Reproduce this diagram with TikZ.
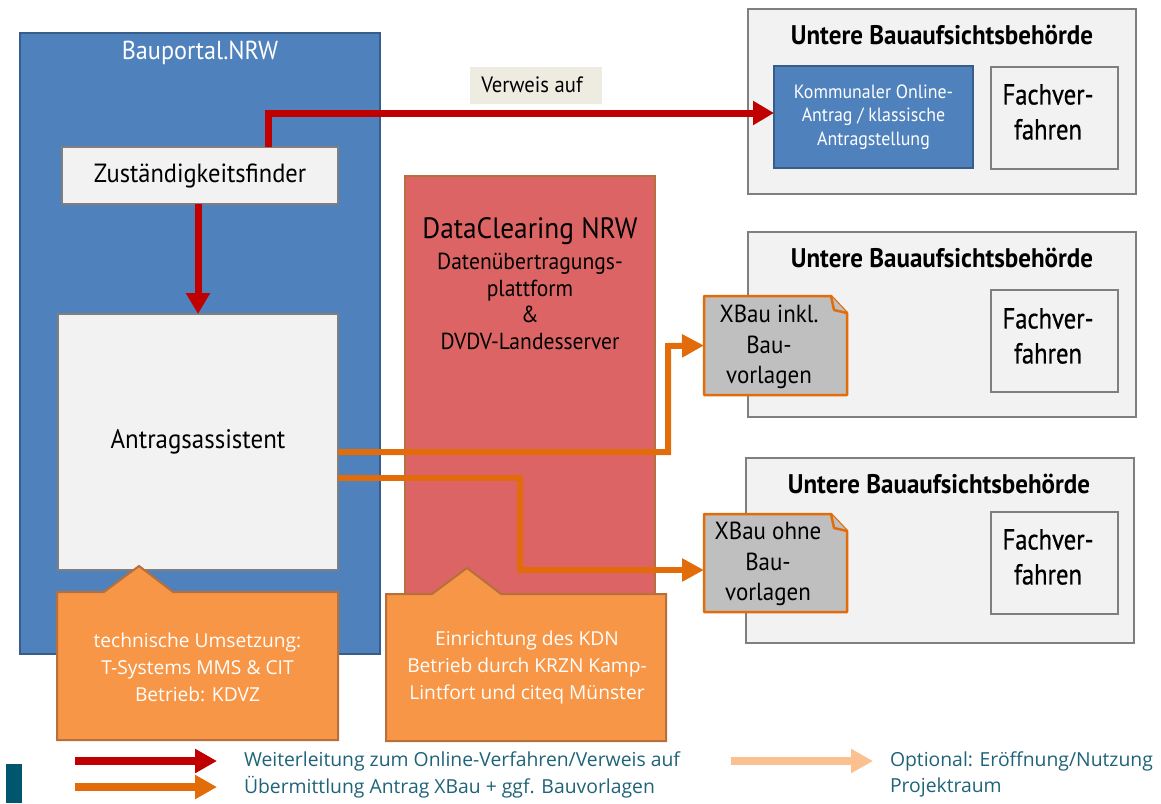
\documentclass[tikz,border=0pt]{standalone}
\usepackage{fontspec}
\setmainfont[FakeStretch=0.93]{PT Sans}
\newfontfamily\fachfont[FakeStretch=0.85,FakeBold=0.6]{PT Sans}
\newfontfamily\legendfont{Open Sans}
\usetikzlibrary{arrows.meta,calc}
\definecolor{blauF}{HTML}{4F81BD}
\definecolor{blauR}{HTML}{385D8A}
\definecolor{grauF}{HTML}{F2F2F2}
\definecolor{grauR}{HTML}{7F7F7F}
\definecolor{rotF}{HTML}{DC6464}
\definecolor{brauR}{HTML}{B7703B}
\definecolor{orF}{HTML}{F79646}
\definecolor{orL}{HTML}{E36C0A}
\definecolor{rotL}{HTML}{C00000}
\definecolor{hellOr}{HTML}{FBC08F}
\definecolor{teal}{HTML}{1F6378}
\definecolor{tealB}{HTML}{00566E}
\definecolor{beige}{HTML}{EEECE1}
\definecolor{noteF}{HTML}{BFBFBF}
\tikzset{x=1pt,y=-1pt,
  box/.style={draw,line width=2pt,anchor=north west,inner sep=0pt,outer sep=0pt,align=center,text=black},
  panel/.style={box,draw=grauR,fill=grauF},
  plain/.style={inner sep=0pt,outer sep=0pt,align=center},
  ttl/.style={plain,font=\fontsize{26.9}{30}\selectfont\bfseries,text=black},
  red arrow/.style={draw=rotL,line width=7pt,-{Triangle[length=21pt,width=23pt]}},
  or arrow/.style={draw=orL,line width=6pt,-{Triangle[length=22pt,width=22pt]}},
  lg arrow/.style={line width=7.5pt,-{Triangle[length=22pt,width=23pt]}},
  lg text/.style={plain,anchor=west,font=\legendfont\fontsize{19.35}{22}\selectfont,text=teal},
  callout/.style={draw=brauR,line width=2pt,fill=orF,line join=miter},
  call text/.style={plain,text=white,font=\legendfont\fontsize{19.2}{27}\selectfont},
  note/.style={draw=orL,line width=2.5pt,fill=noteF,line join=round},
  notetext/.style={plain,text=black,font=\fontsize{24.7}{30.5}\selectfont},
  fach/.style={panel,minimum width=127pt,minimum height=102pt},
  fachtext/.style={plain,text=black,font=\fachfont\fontsize{29}{35}\selectfont},
  ub/.style={panel,minimum width=388pt,minimum height=185pt}
}
\begin{document}
\begin{tikzpicture}
\useasboundingbox (0,0) rectangle (1161,803);
% Bauportal
\node[box,draw=blauR,fill=blauF,minimum width=360pt,minimum height=621pt] (portal) at (20,33) {};
\node[plain,text=white,font=\fontsize{26}{30}\selectfont] (portalT) at (200,53) {Bauportal.NRW};
\node[panel,minimum width=276pt,minimum height=57pt,font=\fontsize{26.3}{30}\selectfont] (zust) at (62,147) {Zuständigkeitsfinder};
\node[panel,minimum width=280pt,minimum height=256pt,font=\fontsize{26.8}{30}\selectfont] (antrag) at (58,314) {Antragsassistent};
% DataClearing
\node[box,draw=brauR,fill=rotF,minimum width=250pt,minimum height=430pt] (clear) at (405,176) {};
\node[plain,text=black,font=\fontsize{29.4}{36}\selectfont] (clearT) at (530,231) {DataClearing NRW};
\node[plain,text=black,font=\fontsize{23.2}{26.5}\selectfont] (clearS) at (530,301.5) {Datenübertragungs-\\plattform\\\&\\DVDV-Landesserver};
% Untere Bauaufsicht
\node[ub] (ub1) at (748,9) {};
\node[ub] (ub2) at (748,232) {};
\node[ub] (ub3) at (746,458) {};
\node[ttl] (ub1T) at (942,35) {Untere Bauaufsichtsbehörde};
\node[ttl] (ub2T) at (942,258) {Untere Bauaufsichtsbehörde};
\node[ttl] (ub3T) at (939,484) {Untere Bauaufsichtsbehörde};
\node[box,draw=blauR,fill=blauF,text=white,line width=2.5pt,minimum width=199pt,minimum height=102pt,font=\fontsize{19.2}{23.5}\selectfont] (komm) at (774,66) {Kommunaler Online-\\Antrag / klassische\\Antragstellung};
\node[fach] (f1) at (991,67) {};
\node[fach] (f2) at (991,290) {};
\node[fach] (f3) at (991,512) {};
\node[fachtext] (f1T) at (1048,112) {Fachver-\\fahren};
\node[fachtext] (f2T) at (1048,336) {Fachver-\\fahren};
\node[fachtext] (f3T) at (1048,557) {Fachver-\\fahren};
\node[plain,anchor=north west,fill=beige,minimum width=132pt,minimum height=37pt] (verweis) at (470,67) {};
\node[plain,font=\fontsize{22.2}{24}\selectfont] (verweisT) at (532,85) {Verweis auf};
% Notes
\node[plain,anchor=north west,minimum width=143pt,minimum height=99pt] (n1) at (704,296) {};
\node[plain,anchor=north west,minimum width=143pt,minimum height=98pt] (n2) at (704,514) {};
\draw[note] (n1.north west) -- ($(n1.north east)+(-16,0)$) -- ($(n1.north east)+(0,17)$) -- (n1.south east) -- (n1.south west) -- cycle;
\draw[note] ($(n1.north east)+(-16,0)$) -- ($(n1.north east)+(-13,14)$) -- ($(n1.north east)+(0,17)$);
\draw[note] (n2.north west) -- ($(n2.north east)+(-16,0)$) -- ($(n2.north east)+(0,17)$) -- (n2.south east) -- (n2.south west) -- cycle;
\draw[note] ($(n2.north east)+(-16,0)$) -- ($(n2.north east)+(-13,14)$) -- ($(n2.north east)+(0,17)$);
\node[notetext] (n1T) at (769,347) {XBau inkl.\\Bau-\\vorlagen};
\node[notetext] (n2T) at (768,564) {XBau ohne\\Bau-\\vorlagen};
% Connectors
\coordinate (zustOut) at ($(zust.north west)+(206,0)$);
\draw[red arrow] (zustOut) |- (komm.west |- 0,113);
\draw[red arrow] (antrag.north |- zust.south) -- (antrag.north);
\coordinate (aOut1) at ($(antrag.north east)+(0,138)$);
\coordinate (aOut2) at ($(antrag.north east)+(0,164)$);
\coordinate (n2In) at ($(n2.north west)+(0,56)$);
\draw[or arrow] (aOut1) -- (668,452) -- (668,346) -- (n1.west);
\draw[or arrow] (aOut2) -- (520,478) -- (520,570) -- (n2In);
% Callouts
\draw[callout] (57,592) -- (104,592) -- (139,566) -- (173,592) -- (338,592) -- (338,740) -- (57,740) -- cycle;
\draw[callout] (386,594) -- (432,594) -- (467,568) -- (501,594) -- (666,594) -- (666,741) -- (386,741) -- cycle;
\node[call text] (c1) at (197.5,667) {technische Umsetzung:\\T-Systems MMS \& CIT\\Betrieb: KDVZ};
\node[call text] (c2) at (527,668) {Einrichtung des KDN\\Betrieb durch KRZN Kamp-\\Lintfort und citeq Münster};
% Legend
\coordinate (l1a) at (75,761); \coordinate (l1b) at (217,761);
\coordinate (l2a) at (75,787); \coordinate (l2b) at (217,787);
\coordinate (l3a) at (731,761); \coordinate (l3b) at (873,761);
\draw[lg arrow,draw=rotL] (l1a) -- (l1b);
\draw[lg arrow,draw=orL] (l2a) -- (l2b);
\draw[lg arrow,draw=hellOr] (l3a) -- (l3b);
\fill[tealB] (6,764) rectangle (22,803);
\node[lg text] (t1) at (244,761) {Weiterleitung zum Online-Verfahren/Verweis auf};
\node[lg text] (t2) at (244,787) {Übermittlung Antrag XBau + ggf. Bauvorlagen};
\node[lg text] (t3) at (890,761) {Optional: Eröffnung/Nutzung};
\node[lg text] (t4) at (890,787) {Projektraum};
\end{tikzpicture}
\end{document}
